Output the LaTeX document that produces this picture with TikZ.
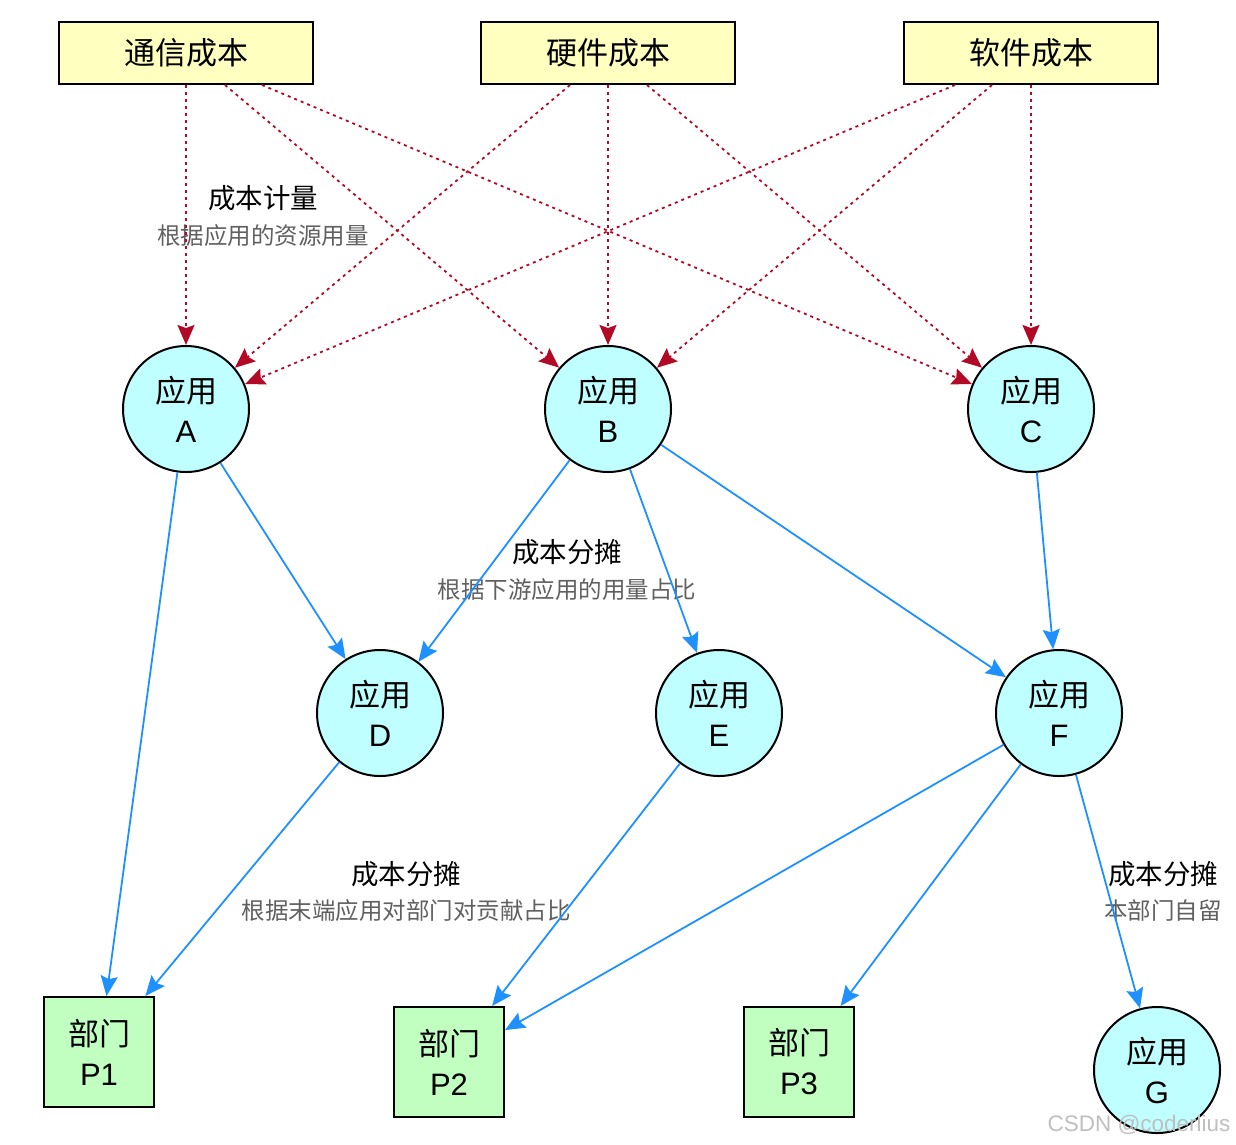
\documentclass[tikz,border=0pt]{standalone}
\usepackage{fontspec}
\setmainfont{Liberation Sans}
\newfontfamily\cjk{Noto Sans CJK SC}
\usetikzlibrary{arrows.meta,positioning,calc}
\definecolor{costyellow}{HTML}{FFFFC0}
\definecolor{appcyan}{HTML}{C0FFFF}
\definecolor{deptgreen}{HTML}{C0FFC0}
\definecolor{costred}{HTML}{B20A26}
\definecolor{flowblue}{HTML}{1E90FF}
\definecolor{notegray}{HTML}{606060}
\begin{document}
\begin{tikzpicture}[x=1pt, y=-1pt,
  cost/.style={rectangle, draw=black, line width=2pt, fill=costyellow, minimum width=254pt, minimum height=62pt, font=\fontsize{31}{36}\selectfont\cjk},
  app/.style={circle, draw=black, line width=2pt, fill=appcyan, minimum size=126pt, inner sep=0pt, align=center, font=\fontsize{31}{40}\selectfont},
  dept/.style={rectangle, draw=black, line width=2pt, fill=deptgreen, minimum size=110pt, inner sep=0pt, align=center, font=\fontsize{31}{40}\selectfont},
  measure/.style={color=costred, line width=1.8pt, dash pattern=on 3pt off 4pt, -{Stealth[length=20pt,width=17pt,inset=3pt]}},
  share/.style={color=flowblue, line width=1.8pt, -{Stealth[length=20pt,width=17pt,inset=3pt]}},
  title/.style={font=\fontsize{27.5}{32}\selectfont\cjk},
  note/.style={text=notegray, font=\fontsize{23.5}{28}\selectfont\cjk}]
  \useasboundingbox (0,0) rectangle (1236,1144);

  % cost sources
  \node (comm) [cost] at (186,53) {通信成本};
  \node (hw)   [cost] at (608,53) {硬件成本};
  \node (sw)   [cost] at (1031,53) {软件成本};

  % applications
  \node (A) [app] at (186,409) {{\cjk 应用}\\A};
  \node (B) [app] at (608,409) {{\cjk 应用}\\B};
  \node (C) [app] at (1031,409) {{\cjk 应用}\\C};
  \node (D) [app] at (380,713) {{\cjk 应用}\\D};
  \node (E) [app] at (719,713) {{\cjk 应用}\\E};
  \node (F) [app] at (1059,713) {{\cjk 应用}\\F};
  \node (G) [app] at (1157,1070) {{\cjk 应用}\\G};

  % departments
  \node (P1) [dept] at (99,1052) {{\cjk 部门}\\P1};
  \node (P2) [dept] at (449,1062) {{\cjk 部门}\\P2};
  \node (P3) [dept] at (799,1062) {{\cjk 部门}\\P3};

  % labels
  \node (meas-t) [title] at (263,198) {成本计量};
  \node (meas-n) [note] at (263,236) {根据应用的资源用量};
  \node (up-t) [title] at (567,552) {成本分摊};
  \node (up-n) [note] at (567,590) {根据下游应用的用量占比};
  \node (end-t) [title] at (406,874) {成本分摊};
  \node (end-n) [note] at (406,911) {根据末端应用对部门对贡献占比};
  \node (own-t) [title] at (1163,874) {成本分摊};
  \node (own-n) [note] at (1163,911) {本部门自留};

  % cost measurement
  \draw [measure] (comm.south) -- (A);
  \draw [measure] ([xshift=39pt]comm.south) -- (B);
  \draw [measure] ([xshift=76pt]comm.south) -- (C);
  \draw [measure] ([xshift=-38pt]hw.south) -- (A);
  \draw [measure] (hw.south) -- (B);
  \draw [measure] ([xshift=39pt]hw.south) -- (C);
  \draw [measure] ([xshift=-76pt]sw.south) -- (A);
  \draw [measure] ([xshift=-39pt]sw.south) -- (B);
  \draw [measure] (sw.south) -- (C);

  % cost sharing
  \path [share]
  (A) edge (P1)
  (A) edge (D)
  (B) edge (D)
  (B) edge (E)
  (B) edge (F)
  (C) edge (F)
  (D) edge (P1)
  (E) edge (P2)
  (F) edge (P2)
  (F) edge (P3)
  (F) edge (G);

  \node (mark) [anchor=east, text=black!25, font=\fontsize{22.5}{26}\selectfont] at (1234,1125) {CSDN @coderlius};
\end{tikzpicture}
\end{document}
